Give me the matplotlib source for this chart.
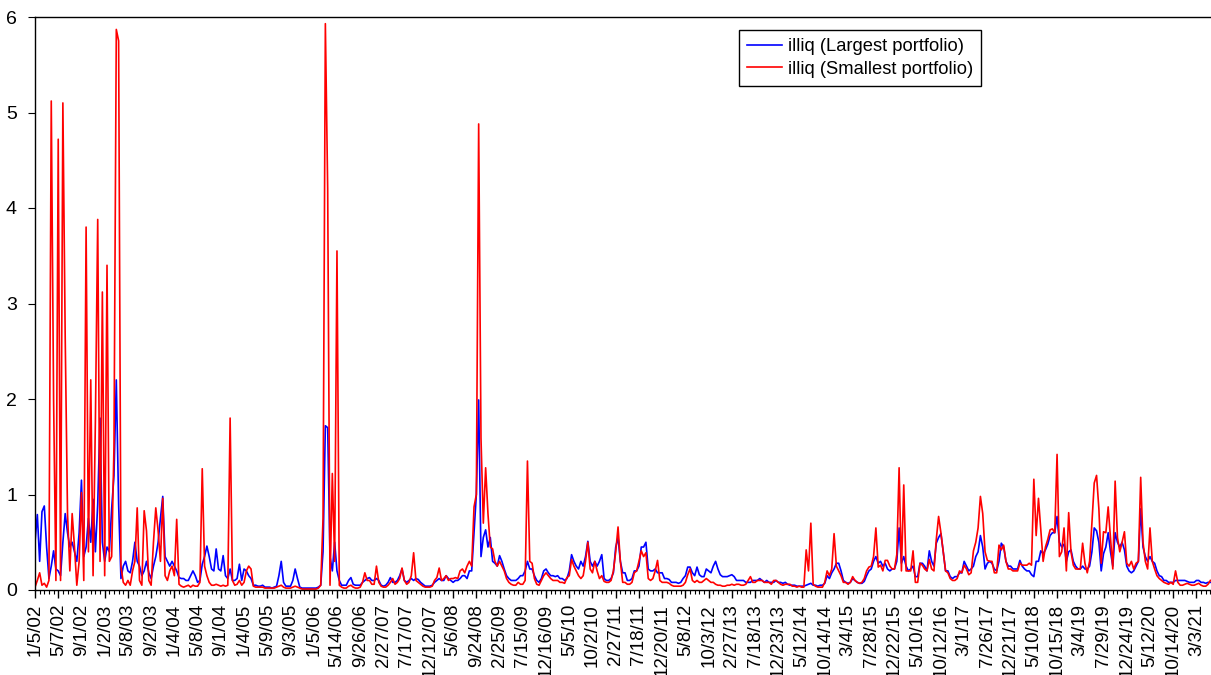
import matplotlib
matplotlib.use('Agg')
import numpy as np
import matplotlib.pyplot as plt

plt.rcParams['font.family'] = ['Liberation Sans', 'DejaVu Sans']

# one label every 10 observations
date_labels = ['1/5/02', '5/7/02', '9/1/02', '1/2/03', '5/8/03', '9/2/03', '1/4/04', '5/8/04',
               '9/1/04', '1/4/05', '5/9/05', '9/3/05', '1/5/06', '5/14/06', '9/26/06', '2/27/07',
               '7/17/07', '12/12/07', '5/6/08', '9/24/08', '2/25/09', '7/15/09', '12/16/09', '5/5/10',
               '10/2/10', '2/27/11', '7/18/11', '12/20/11', '5/8/12', '10/3/12', '2/27/13', '7/18/13',
               '12/23/13', '5/12/14', '10/14/14', '3/4/15', '7/28/15', '12/22/15', '5/10/16', '10/12/16',
               '3/1/17', '7/26/17', '12/21/17', '5/10/18', '10/15/18', '3/4/19', '7/29/19', '12/24/19',
               '5/12/20', '10/14/20', '3/3/21']

largest = [
    0.5, 0.79, 0.3, 0.82, 0.88, 0.45, 0.12, 0.25, 0.41, 0.22,
    0.2, 0.15, 0.5, 0.8, 0.6, 0.45, 0.5, 0.4, 0.3, 0.6,
    1.15, 0.35, 0.45, 0.75, 0.5, 0.95, 0.4, 0.9, 1.8, 0.5,
    0.3, 0.45, 0.4, 0.85, 1.2, 2.2, 0.9, 0.12, 0.25, 0.3,
    0.2, 0.18, 0.3, 0.5, 0.3, 0.25, 0.15, 0.2, 0.3, 0.18,
    0.12, 0.25, 0.35, 0.5, 0.75, 0.98, 0.35, 0.3, 0.25, 0.3,
    0.25, 0.2, 0.13, 0.12, 0.12, 0.1, 0.1, 0.15, 0.2, 0.15,
    0.08, 0.1, 0.27, 0.35, 0.46, 0.35, 0.22, 0.2, 0.43, 0.22,
    0.2, 0.36, 0.15, 0.12, 0.22, 0.1, 0.1, 0.12, 0.27, 0.1,
    0.22, 0.2, 0.15, 0.12, 0.05, 0.05, 0.04, 0.04, 0.05, 0.03,
    0.03, 0.03, 0.02, 0.03, 0.04, 0.15, 0.3, 0.08, 0.04, 0.04,
    0.04, 0.1, 0.22, 0.12, 0.03, 0.02, 0.02, 0.02, 0.02, 0.02,
    0.02, 0.02, 0.03, 0.05, 0.4, 1.72, 1.7, 0.35, 0.2, 0.5,
    0.2, 0.1, 0.05, 0.05, 0.05, 0.1, 0.13, 0.06, 0.05, 0.05,
    0.05, 0.08, 0.1, 0.12, 0.13, 0.1, 0.1, 0.12, 0.1, 0.05,
    0.04, 0.05, 0.08, 0.13, 0.08, 0.08, 0.1, 0.15, 0.22, 0.1,
    0.08, 0.1, 0.12, 0.1, 0.12, 0.11, 0.08, 0.06, 0.04, 0.04,
    0.04, 0.05, 0.08, 0.1, 0.12, 0.1, 0.1, 0.15, 0.12, 0.1,
    0.08, 0.1, 0.1, 0.12, 0.15, 0.15, 0.12, 0.2, 0.2, 0.6,
    1.0, 1.99, 0.35, 0.55, 0.63, 0.45, 0.55, 0.3, 0.28, 0.25,
    0.36, 0.3, 0.22, 0.15, 0.12, 0.1, 0.1, 0.1, 0.12, 0.15,
    0.15, 0.2, 0.3, 0.22, 0.22, 0.15, 0.1, 0.08, 0.12, 0.2,
    0.22, 0.18, 0.15, 0.15, 0.14, 0.15, 0.12, 0.12, 0.1, 0.12,
    0.2, 0.37, 0.3, 0.25, 0.22, 0.3, 0.25, 0.35, 0.51, 0.3,
    0.25, 0.3, 0.25, 0.3, 0.37, 0.12, 0.1, 0.1, 0.12, 0.18,
    0.45, 0.55, 0.3, 0.18, 0.18, 0.1, 0.1, 0.12, 0.2, 0.2,
    0.25, 0.45, 0.45, 0.5, 0.22, 0.2, 0.2, 0.22, 0.18, 0.18,
    0.18, 0.12, 0.12, 0.11, 0.08, 0.08, 0.08, 0.07, 0.08, 0.12,
    0.15, 0.24, 0.24, 0.18, 0.15, 0.24, 0.16, 0.14, 0.14, 0.22,
    0.2, 0.18, 0.25, 0.3, 0.22, 0.16, 0.14, 0.14, 0.14, 0.15,
    0.16, 0.14, 0.1, 0.1, 0.1, 0.1, 0.08, 0.08, 0.08, 0.1,
    0.1, 0.1, 0.12, 0.1, 0.08, 0.1, 0.08, 0.08, 0.08, 0.1,
    0.08, 0.08, 0.07, 0.08, 0.06, 0.05, 0.05, 0.05, 0.04, 0.04,
    0.04, 0.04, 0.05, 0.06, 0.07, 0.05, 0.05, 0.04, 0.05, 0.05,
    0.07, 0.15, 0.12, 0.18, 0.22, 0.28, 0.28, 0.2, 0.1, 0.08,
    0.07, 0.08, 0.12, 0.1, 0.08, 0.07, 0.07, 0.09, 0.15, 0.2,
    0.22, 0.3, 0.35, 0.28, 0.3, 0.25, 0.28, 0.22, 0.2, 0.22,
    0.22, 0.3, 0.65, 0.28, 0.35, 0.25, 0.2, 0.22, 0.25, 0.14,
    0.14, 0.28, 0.28, 0.25, 0.2, 0.41, 0.3, 0.25, 0.49, 0.55,
    0.59, 0.4, 0.2, 0.2, 0.14, 0.12, 0.14, 0.14, 0.18, 0.18,
    0.3, 0.25, 0.2, 0.22, 0.25, 0.35, 0.4, 0.57, 0.45, 0.22,
    0.28, 0.3, 0.28, 0.22, 0.2, 0.3, 0.49, 0.45, 0.3, 0.25,
    0.25, 0.22, 0.22, 0.22, 0.31, 0.25, 0.22, 0.2, 0.2, 0.16,
    0.14, 0.3, 0.3, 0.41, 0.38, 0.42, 0.48, 0.57, 0.6, 0.6,
    0.77, 0.5, 0.45, 0.48, 0.3, 0.4, 0.42, 0.3, 0.25, 0.22,
    0.22, 0.25, 0.22, 0.22, 0.25, 0.4, 0.65, 0.62, 0.5, 0.2,
    0.38, 0.45, 0.6, 0.4, 0.25, 0.6, 0.5, 0.45, 0.5, 0.42,
    0.25, 0.2, 0.18, 0.2, 0.25, 0.3, 0.85, 0.45, 0.35, 0.3,
    0.35, 0.3, 0.28, 0.2, 0.15, 0.14, 0.1, 0.1, 0.08, 0.08,
    0.08, 0.1, 0.1, 0.1, 0.1, 0.1, 0.09, 0.08, 0.08, 0.08,
    0.1, 0.1, 0.08, 0.08, 0.07, 0.08, 0.08,
]

smallest = [
    0.03, 0.1, 0.18, 0.05, 0.07, 0.03, 0.1, 5.12, 2.0, 0.1,
    4.72, 0.1, 5.1, 2.65, 0.8, 0.2, 0.8, 0.45, 0.05, 0.3,
    1.02, 0.1, 3.8, 0.4, 2.2, 0.15, 1.77, 3.88, 0.3, 3.12,
    0.15, 3.4, 0.3, 0.35, 1.5, 5.87, 5.75, 0.25, 0.08, 0.05,
    0.1, 0.05, 0.2, 0.3, 0.86, 0.1, 0.05, 0.83, 0.62, 0.1,
    0.05, 0.5, 0.86, 0.62, 0.3, 0.96, 0.15, 0.1, 0.2, 0.25,
    0.15, 0.74, 0.06, 0.04, 0.03, 0.04, 0.05, 0.03, 0.05, 0.04,
    0.04, 0.08, 1.27, 0.25, 0.15, 0.08, 0.05, 0.05, 0.06, 0.05,
    0.04, 0.05, 0.04, 0.05, 1.8, 0.1, 0.05, 0.06, 0.1, 0.05,
    0.08, 0.2, 0.25, 0.22, 0.04, 0.03, 0.03, 0.03, 0.03, 0.02,
    0.02, 0.02, 0.02, 0.02, 0.03, 0.04, 0.05, 0.03, 0.02, 0.02,
    0.02, 0.03, 0.04, 0.03, 0.02, 0.01, 0.01, 0.01, 0.01, 0.01,
    0.01, 0.01, 0.02, 0.05, 0.75, 5.93, 4.2, 0.05, 1.22, 0.3,
    3.55, 0.05, 0.03, 0.02, 0.02, 0.04, 0.05, 0.03, 0.02, 0.02,
    0.03, 0.08, 0.18, 0.1, 0.1, 0.06, 0.06, 0.25, 0.08, 0.04,
    0.03, 0.03, 0.05, 0.08, 0.12, 0.06, 0.08, 0.12, 0.23, 0.1,
    0.06, 0.08, 0.15, 0.39, 0.1, 0.08, 0.06, 0.04, 0.03, 0.03,
    0.03, 0.04, 0.1, 0.13, 0.23, 0.1, 0.12, 0.15, 0.1, 0.12,
    0.12, 0.13, 0.12, 0.2, 0.22, 0.18, 0.25, 0.3, 0.25, 0.87,
    1.0, 4.88, 1.59, 0.7, 1.28, 0.8, 0.45, 0.43, 0.3, 0.25,
    0.3, 0.25, 0.2, 0.12, 0.08, 0.06, 0.05, 0.05, 0.08, 0.06,
    0.06, 0.1, 1.35, 0.3, 0.28, 0.12, 0.06, 0.05, 0.1, 0.15,
    0.18, 0.15, 0.12, 0.1, 0.1, 0.1, 0.08, 0.08, 0.07, 0.13,
    0.15, 0.32, 0.25, 0.2, 0.15, 0.12, 0.15, 0.3, 0.5, 0.22,
    0.18, 0.3, 0.2, 0.12, 0.15, 0.09, 0.08, 0.08, 0.1, 0.2,
    0.4, 0.66, 0.3, 0.08, 0.08, 0.06, 0.06, 0.08, 0.18, 0.2,
    0.3, 0.41, 0.35, 0.39, 0.12, 0.1, 0.12, 0.2, 0.31, 0.1,
    0.08, 0.08, 0.08, 0.07, 0.05, 0.04, 0.04, 0.04, 0.04, 0.05,
    0.08, 0.16, 0.22, 0.1, 0.08, 0.1, 0.08, 0.08, 0.1, 0.12,
    0.1, 0.08, 0.08, 0.06, 0.05, 0.05, 0.04, 0.04, 0.05, 0.05,
    0.06, 0.05, 0.06, 0.06, 0.05, 0.05, 0.06, 0.1, 0.14, 0.08,
    0.08, 0.1, 0.1, 0.1, 0.08, 0.08, 0.08, 0.06, 0.1, 0.1,
    0.08, 0.06, 0.05, 0.06, 0.06, 0.06, 0.04, 0.04, 0.03, 0.04,
    0.03, 0.03, 0.42, 0.2, 0.7, 0.06, 0.04, 0.03, 0.03, 0.03,
    0.08, 0.2, 0.15, 0.22, 0.59, 0.25, 0.2, 0.15, 0.08, 0.08,
    0.06, 0.08, 0.14, 0.1, 0.08, 0.07, 0.08, 0.12, 0.2, 0.24,
    0.25, 0.35, 0.65, 0.24, 0.26, 0.2, 0.31, 0.31, 0.25, 0.22,
    0.22, 0.37, 1.28, 0.2, 1.1, 0.2, 0.2, 0.2, 0.41, 0.08,
    0.08, 0.28, 0.26, 0.22, 0.2, 0.32, 0.22, 0.2, 0.53, 0.77,
    0.6, 0.4, 0.2, 0.18, 0.12, 0.1, 0.1, 0.12, 0.2, 0.18,
    0.26, 0.22, 0.16, 0.18, 0.41, 0.5, 0.65, 0.98, 0.8, 0.4,
    0.31, 0.3, 0.3, 0.18, 0.18, 0.47, 0.42, 0.47, 0.3, 0.22,
    0.22, 0.2, 0.2, 0.2, 0.28, 0.26, 0.26, 0.26, 0.28, 0.26,
    1.16, 0.57, 0.96, 0.63, 0.3, 0.45, 0.53, 0.63, 0.64, 0.6,
    1.42, 0.35, 0.4, 0.65, 0.2, 0.81, 0.4, 0.26, 0.22, 0.22,
    0.22, 0.49, 0.28, 0.18, 0.3, 0.7, 1.12, 1.2, 0.85, 0.28,
    0.61, 0.6, 0.87, 0.55, 0.22, 1.14, 0.55, 0.4, 0.5, 0.61,
    0.28, 0.25, 0.3, 0.22, 0.28, 0.3, 1.18, 0.5, 0.3, 0.22,
    0.65, 0.3, 0.22, 0.15, 0.12, 0.1, 0.08, 0.07, 0.06, 0.08,
    0.06, 0.2, 0.08, 0.05, 0.05, 0.06, 0.07, 0.06, 0.05, 0.05,
    0.06, 0.07, 0.05, 0.04, 0.04, 0.06, 0.1,
]

x = np.arange(len(largest))

fig = plt.figure(figsize=(12.11, 6.75), dpi=100)
ax = fig.add_axes([35 / 1211, 85 / 675, 1177 / 1211, 573 / 675])

ax.plot(x, largest, color='#0000ff', lw=1.2, label='illiq (Largest portfolio)')
ax.plot(x, smallest, color='#ff0000', lw=1.2, label='illiq (Smallest portfolio)')

ax.set_xlim(0, 506.7)
ax.set_ylim(0, 6)
ax.set_yticks(range(7))
ax.set_xticks(np.arange(0, 10 * len(date_labels), 10))
ax.set_xticklabels(date_labels, rotation=90)
ax.set_xticks(np.arange(0, 507, 2), minor=True)
ax.tick_params(axis='x', which='major', length=6, width=1, labelsize=13.5, pad=4)
ax.tick_params(axis='x', which='minor', length=3, width=0.8)
ax.tick_params(axis='y', length=5, labelsize=14, pad=8)
ax.spines['right'].set_visible(False)
for s in ax.spines.values():
    s.set_linewidth(1)

leg = ax.legend(loc='upper left', bbox_to_anchor=(704 / 1177, 1 - 13 / 573), borderaxespad=0,
                fontsize=13.2, frameon=True, fancybox=False, edgecolor='black', framealpha=1,
                handlelength=1.9, borderpad=0.45, labelspacing=0.3, handletextpad=0.3)
leg.get_frame().set_linewidth(1)

fig.savefig('out.png', dpi=100)
